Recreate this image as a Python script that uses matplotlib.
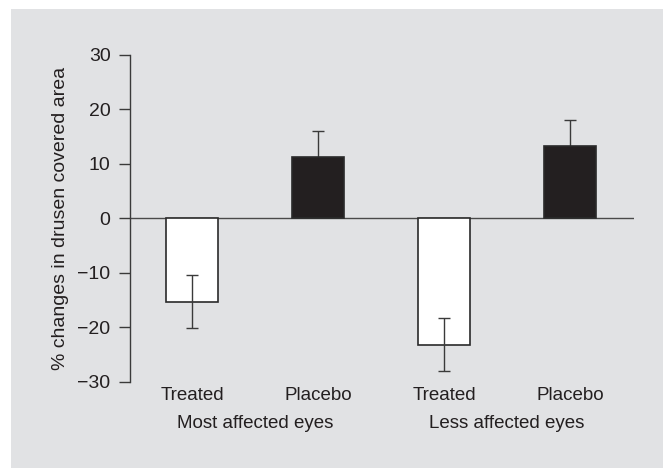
import matplotlib.pyplot as plt

# values
groups = ['Most affected eyes', 'Less affected eyes']
conditions = ['Treated', 'Placebo', 'Treated', 'Placebo']
values = [-15.3, 11.2, -23.2, 13.3]
errors = [4.9, 4.8, 4.9, 4.8]
bar_colors = ['white', '#231f20', 'white', '#231f20']

plt.rcParams['font.family'] = ['Liberation Sans', 'DejaVu Sans']

W, H = 663, 468
fig = plt.figure(figsize=(W / 100, H / 100), dpi=100)
fig.patch.set_facecolor('white')
bg = '#e1e2e4'
# gray panel leaving a thin white strip at left and top
fig.patches.append(plt.Rectangle((11 / W, 0), 1, 1 - 9 / H, transform=fig.transFigure,
                                 facecolor=bg, edgecolor='none', zorder=-10))

left, right, top, bottom = 130, 634, 54.7, 381.7
ax = fig.add_axes([left / W, 1 - bottom / H, (right - left) / W, (bottom - top) / H])
ax.set_facecolor('none')

x = list(range(len(values)))
# white bars under the error bars, dark bars over them (hides the lower half)
for xi, v, c in zip(x, values, bar_colors):
    z = 4 if c != 'white' else 2
    ax.bar(xi, v, width=0.42, color=c, edgecolor='#2a2a2a', linewidth=1.2, zorder=z)
ax.errorbar(x, values, yerr=errors, fmt='none', ecolor='#3a3a3a', elinewidth=1.0,
            capsize=4, capthick=1.0, zorder=3)
ax.axhline(0, color='#4a4a4a', linewidth=1.0, zorder=1)

ax.set_xlim(-0.492, 3.508)
ax.set_ylim(-30, 30)
ax.set_yticks([-30, -20, -10, 0, 10, 20, 30])
ax.set_yticklabels(['\u221230', '\u221220', '\u221210', '0', '10', '20', '30'])
ax.tick_params(axis='y', length=8, width=1.0, color='#3a3a3a', labelsize=14, pad=6,
               labelcolor='#231f20')
ax.set_xticks(x)
ax.set_xticklabels(conditions)
ax.tick_params(axis='x', length=0, labelsize=13.5, pad=4, labelcolor='#231f20')

for s in ['top', 'right', 'bottom']:
    ax.spines[s].set_visible(False)
ax.spines['left'].set_color('#3a3a3a')
ax.spines['left'].set_linewidth(1.0)

for i, g in enumerate(groups):
    ax.text(2 * i + 0.5, -0.127, g, transform=ax.get_xaxis_transform(),
            ha='center', va='center', fontsize=13.5, color='#231f20')

ax.set_ylabel('% changes in drusen covered area', fontsize=14, color='#231f20', labelpad=6)

fig.savefig('out.png', dpi=100)
